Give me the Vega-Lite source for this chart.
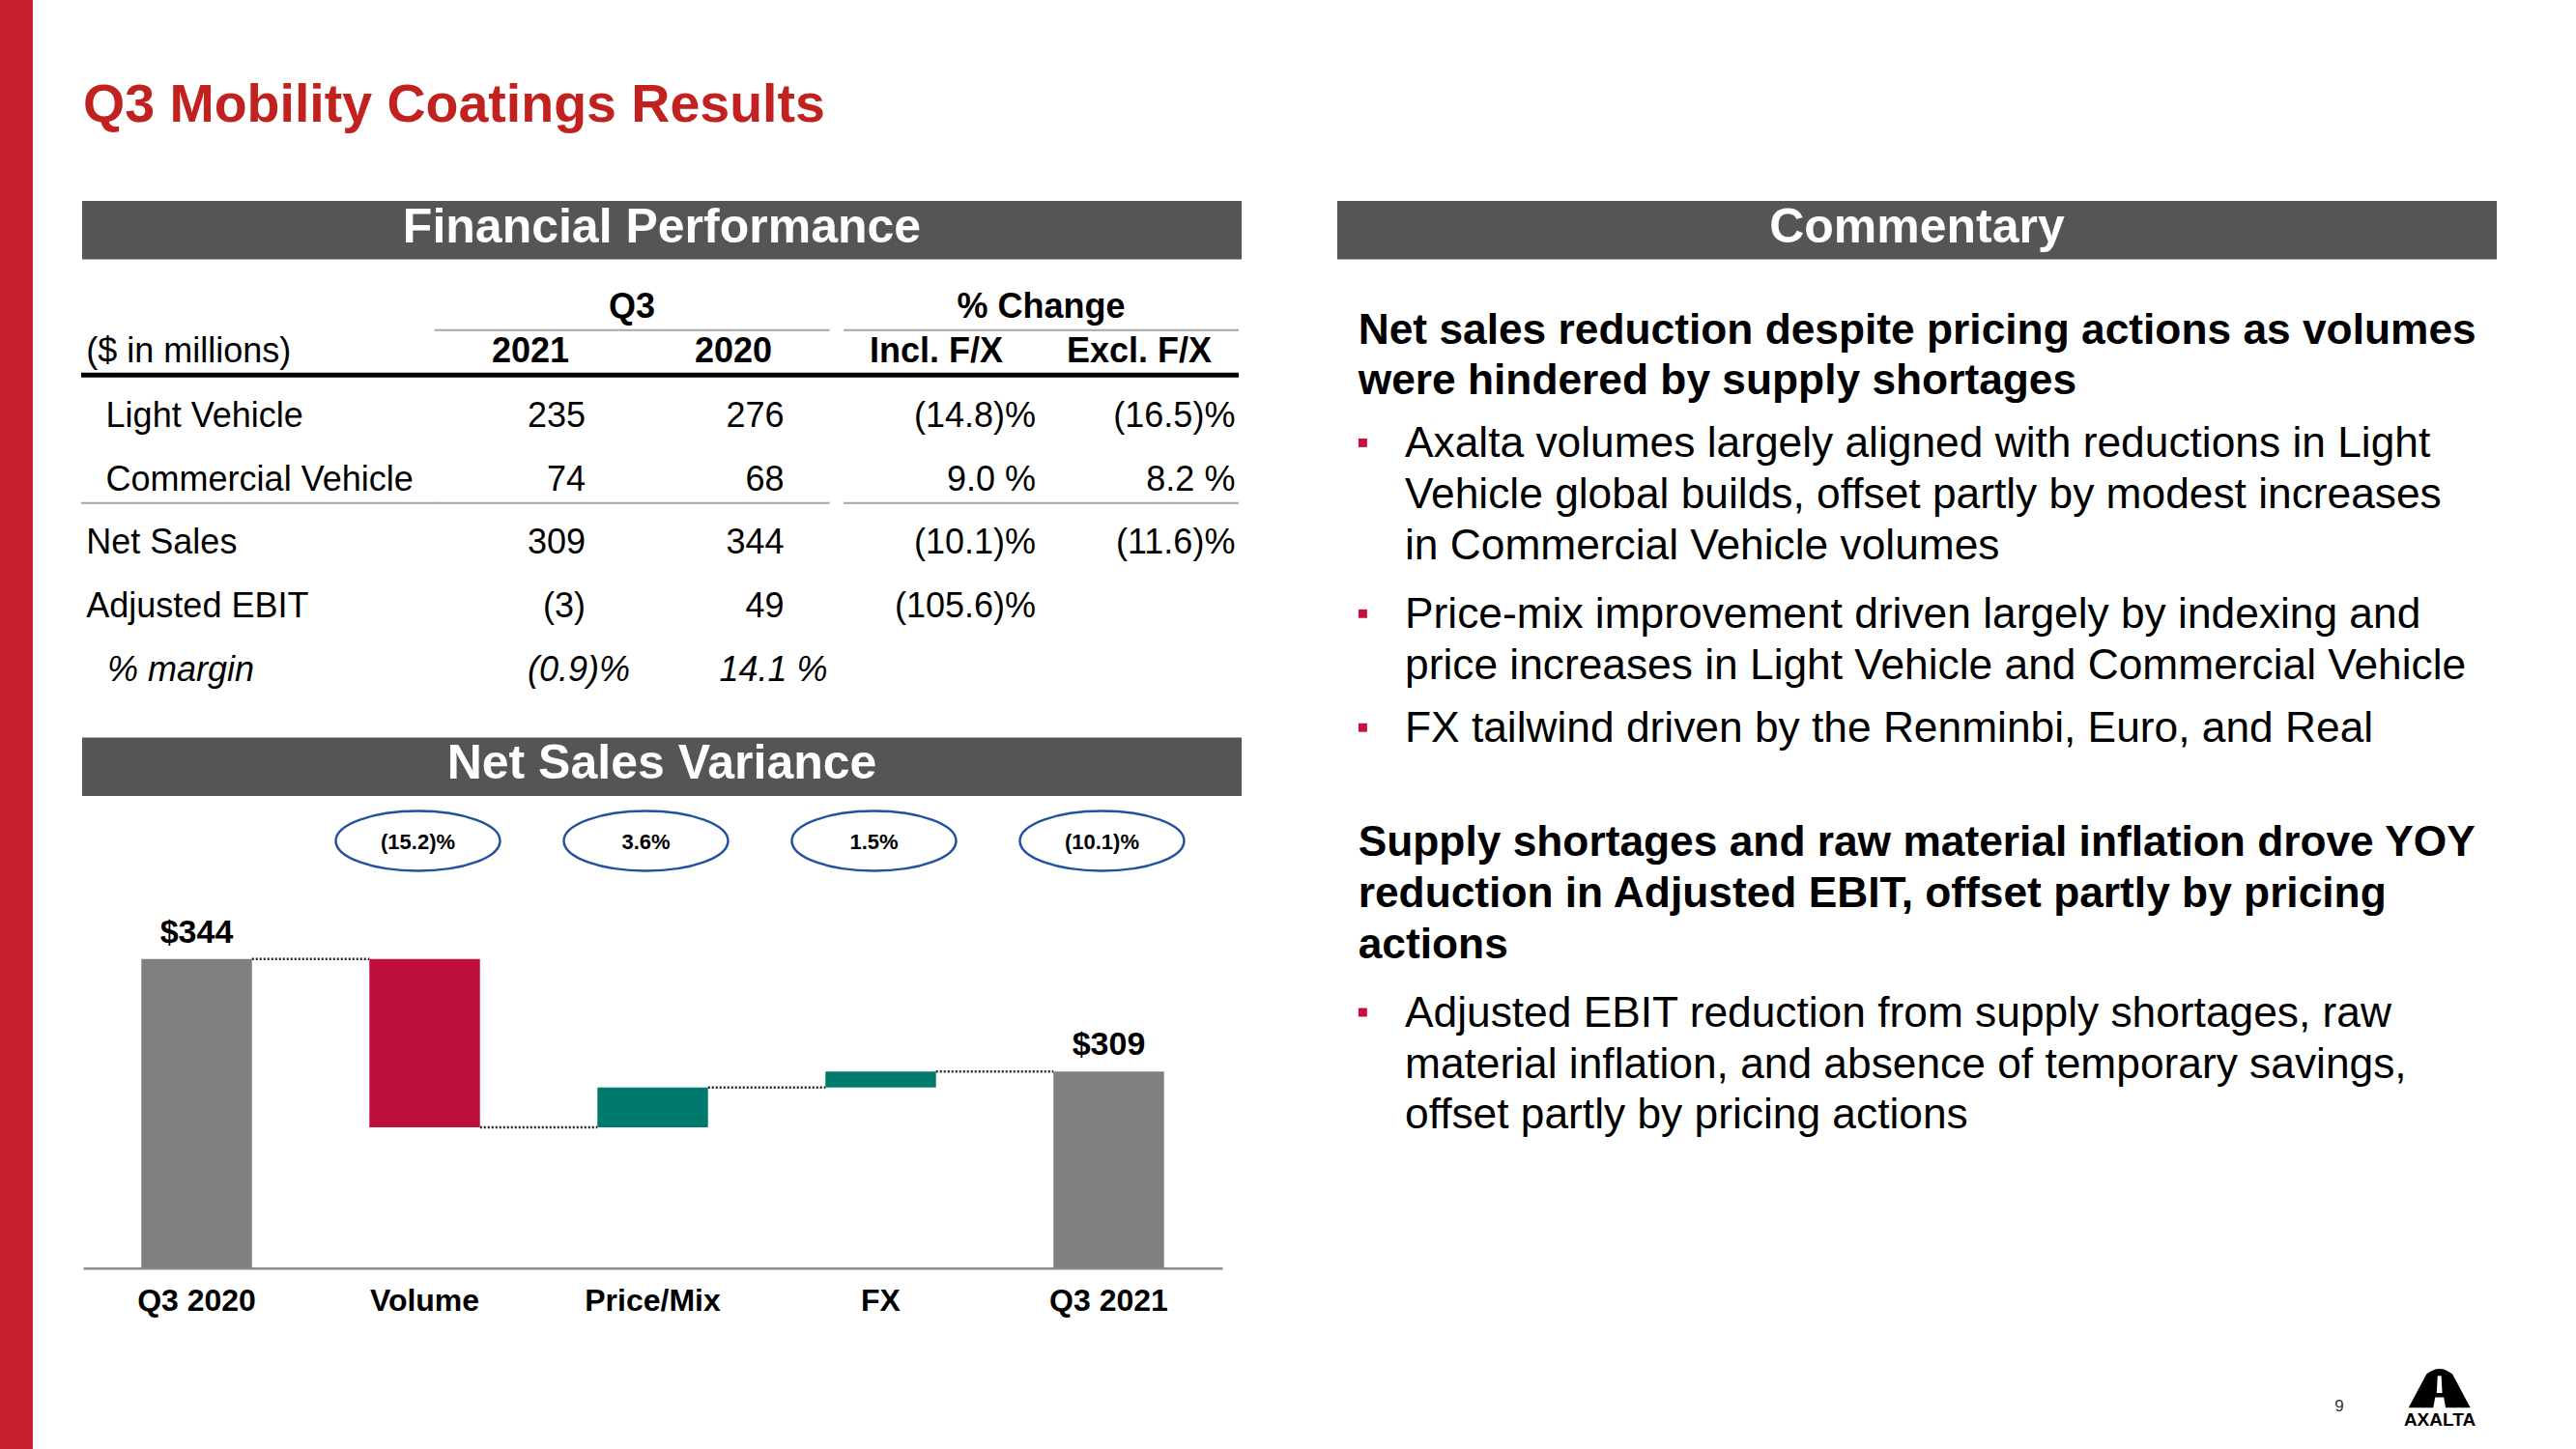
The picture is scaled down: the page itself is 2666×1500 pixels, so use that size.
{
  "$schema": "https://vega.github.io/schema/vega-lite/v6.json",
  "width": 2666,
  "height": 1500,
  "autosize": {"type": "none"},
  "padding": 0,
  "background": "#ffffff",
  "config": {"view": {"stroke": null}, "font": "Liberation Sans"},
  "datasets": {
    "slide": [{"title": "Q3 Mobility Coatings Results", "page": "9", "brand": "AXALTA"}],
    "panels": [
      {"header": "Financial Performance", "side": "left", "tier": "upper"},
      {"header": "Commentary", "side": "right", "tier": "upper"},
      {"header": "Net Sales Variance", "side": "left", "tier": "lower"}
    ],
    "tableHead": [
      {"label": "Q3", "tier": "group", "group": "Q3"},
      {"label": "% Change", "tier": "group", "group": "% Change"},
      {"label": "($ in millions)", "tier": "column", "group": "rows"},
      {"label": "2021", "tier": "column", "group": "Q3"},
      {"label": "2020", "tier": "column", "group": "Q3"},
      {"label": "Incl. F/X", "tier": "column", "group": "% Change"},
      {"label": "Excl. F/X", "tier": "column", "group": "% Change"}
    ],
    "borders": [
      {"border": "below column headings"},
      {"border": "below segments"}
    ],
    "table": [
      {"item": "Light Vehicle", "kind": "segment", "c2021": "235", "c2020": "276", "incl": "(14.8)%", "excl": "(16.5)%"},
      {"item": "Commercial Vehicle", "kind": "segment", "c2021": "74", "c2020": "68", "incl": "9.0 %", "excl": "8.2 %"},
      {"item": "Net Sales", "kind": "total", "c2021": "309", "c2020": "344", "incl": "(10.1)%", "excl": "(11.6)%"},
      {"item": "Adjusted EBIT", "kind": "total", "c2021": "(3)", "c2020": "49", "incl": "(105.6)%"},
      {"item": "% margin", "kind": "ratio", "c2021": "(0.9)%", "c2020": "14.1 %"}
    ],
    "waterfall": [
      {"step": "Q3 2020", "kind": "total", "end": 344, "label": "$344"},
      {"step": "Volume", "kind": "decrease", "start": 344, "end": 291.7, "change": "(15.2)%"},
      {"step": "Price/Mix", "kind": "increase", "start": 291.7, "end": 304.1, "change": "3.6%"},
      {"step": "FX", "kind": "increase", "start": 304.1, "end": 309, "change": "1.5%"},
      {"step": "Q3 2021", "kind": "total", "end": 309, "label": "$309", "change": "(10.1)%"}
    ],
    "connectors": [
      {"from": "Q3 2020", "to": "Volume", "level": 344},
      {"from": "Volume", "to": "Price/Mix", "level": 291.7},
      {"from": "Price/Mix", "to": "FX", "level": 304.1},
      {"from": "FX", "to": "Q3 2021", "level": 309}
    ],
    "commentary": [
      {"line": 0, "kind": "heading", "text": ["Net sales reduction despite pricing actions as volumes", "were hindered by supply shortages"]},
      {"line": 2, "kind": "bullet", "text": ["Axalta volumes largely aligned with reductions in Light", "Vehicle global builds, offset partly by modest increases", "in Commercial Vehicle volumes"]},
      {"line": 5, "kind": "bullet", "text": ["Price-mix improvement driven largely by indexing and", "price increases in Light Vehicle and Commercial Vehicle"]},
      {"line": 7, "kind": "bullet", "text": ["FX tailwind driven by the Renminbi, Euro, and Real"]},
      {"line": 9, "kind": "heading", "text": ["Supply shortages and raw material inflation drove YOY", "reduction in Adjusted EBIT, offset partly by pricing", "actions"]},
      {"line": 12, "kind": "bullet", "text": ["Adjusted EBIT reduction from supply shortages, raw", "material inflation, and absence of temporary savings,", "offset partly by pricing actions"]}
    ]
  },
  "layer": [
    {
      "data": {"name": "slide"},
      "mark": {"type": "rect", "color": "#C8202E"},
      "encoding": {
        "x": {"field": "brand", "type": "nominal", "scale": {"type": "band", "range": [0, 34], "paddingInner": 0, "paddingOuter": 0}, "axis": null},
        "y": {"field": "brand", "type": "nominal", "scale": {"type": "band", "range": [0, 1500], "paddingInner": 0, "paddingOuter": 0}, "axis": null}
      }
    },
    {
      "data": {"name": "slide"},
      "mark": {"type": "text", "align": "left", "baseline": "alphabetic", "fontSize": 55.5, "fontWeight": "bold", "color": "#C2221F"},
      "encoding": {
        "text": {"field": "title"},
        "x": {"field": "title", "type": "nominal", "scale": {"type": "point", "range": [86, 86]}, "axis": null},
        "y": {"field": "title", "type": "nominal", "scale": {"type": "point", "range": [126, 126]}, "axis": null}
      }
    },
    {
      "data": {"name": "panels"},
      "mark": {"type": "rect", "color": "#555555"},
      "encoding": {
        "x": {"field": "side", "type": "nominal", "scale": {"type": "band", "domain": ["left", "right"], "range": [85, 2584], "paddingInner": 0.0762, "paddingOuter": 0}, "axis": null},
        "y": {"field": "tier", "type": "nominal", "scale": {"type": "band", "domain": ["upper", "lower"], "range": [208, 824], "paddingInner": 0.8911, "paddingOuter": 0}, "axis": null}
      }
    },
    {
      "data": {"name": "panels"},
      "mark": {"type": "text", "align": "center", "baseline": "alphabetic", "dy": 12.5, "fontSize": 50, "fontWeight": "bold", "color": "#ffffff"},
      "encoding": {
        "text": {"field": "header"},
        "x": {"field": "side", "type": "nominal", "scale": {"type": "band", "domain": ["left", "right"], "range": [85, 2584], "paddingInner": 0.0762, "paddingOuter": 0}, "axis": null},
        "y": {"field": "tier", "type": "nominal", "scale": {"type": "band", "domain": ["upper", "lower"], "range": [208, 824], "paddingInner": 0.8911, "paddingOuter": 0}, "axis": null}
      }
    },
    {
      "data": {"name": "tableHead"},
      "transform": [{"filter": "datum.tier == 'group'"}],
      "mark": {"type": "text", "align": "center", "baseline": "alphabetic", "fontSize": 36, "fontWeight": "bold", "color": "#000000"},
      "encoding": {
        "text": {"field": "label"},
        "x": {"field": "group", "type": "nominal", "scale": {"type": "band", "domain": ["Q3", "% Change"], "range": [449.6, 1282], "paddingInner": 0.034, "paddingOuter": 0}, "axis": null},
        "y": {"field": "tier", "type": "nominal", "scale": {"type": "point", "domain": ["group", "column"], "range": [329.3, 375], "padding": 0}, "axis": null}
      }
    },
    {
      "data": {"name": "tableHead"},
      "transform": [{"filter": "datum.tier == 'column' && datum.group != 'rows'"}],
      "mark": {"type": "text", "align": "center", "baseline": "alphabetic", "fontSize": 36, "fontWeight": "bold", "color": "#000000"},
      "encoding": {
        "text": {"field": "label"},
        "x": {"field": "label", "type": "nominal", "scale": {"type": "point", "domain": ["2021", "2020", "Incl. F/X", "Excl. F/X"], "range": [549, 1179], "padding": 0}, "axis": null},
        "y": {"field": "tier", "type": "nominal", "scale": {"type": "point", "domain": ["group", "column"], "range": [329.3, 375], "padding": 0}, "axis": null}
      }
    },
    {
      "data": {"name": "tableHead"},
      "transform": [{"filter": "datum.group == 'rows'"}],
      "mark": {"type": "text", "align": "left", "baseline": "alphabetic", "fontSize": 36, "color": "#000000"},
      "encoding": {
        "text": {"field": "label"},
        "x": {"field": "group", "type": "nominal", "scale": {"type": "point", "domain": ["rows"], "range": [89.3, 89.3]}, "axis": null},
        "y": {"field": "tier", "type": "nominal", "scale": {"type": "point", "domain": ["group", "column"], "range": [329.3, 375], "padding": 0}, "axis": null}
      }
    },
    {
      "data": {"name": "tableHead"},
      "transform": [{"filter": "datum.tier == 'group'"}],
      "mark": {"type": "rule", "color": "#A6A6A6", "strokeWidth": 2},
      "encoding": {
        "x": {"field": "group", "type": "nominal", "bandPosition": 0, "scale": {"type": "band", "domain": ["Q3", "% Change"], "range": [449.6, 1282], "paddingInner": 0.034, "paddingOuter": 0}, "axis": null},
        "x2": {"field": "group", "bandPosition": 1},
        "y": {"field": "tier", "type": "nominal", "scale": {"type": "point", "domain": ["group"], "range": [341.7, 341.7]}, "axis": null}
      }
    },
    {
      "data": {"name": "tableHead"},
      "transform": [{"filter": "datum.tier == 'group'"}],
      "mark": {"type": "rule", "color": "#A6A6A6", "strokeWidth": 2},
      "encoding": {
        "x": {"field": "group", "type": "nominal", "bandPosition": 0, "scale": {"type": "band", "domain": ["Q3", "% Change"], "range": [449.6, 1282], "paddingInner": 0.034, "paddingOuter": 0}, "axis": null},
        "x2": {"field": "group", "bandPosition": 1},
        "y": {"field": "tier", "type": "nominal", "scale": {"type": "point", "domain": ["group"], "range": [520.7, 520.7]}, "axis": null}
      }
    },
    {
      "data": {"name": "borders"},
      "transform": [{"filter": "datum.border == 'below segments'"}],
      "mark": {"type": "rule", "color": "#A6A6A6", "strokeWidth": 2},
      "encoding": {
        "x": {"field": "border", "type": "nominal", "bandPosition": 0, "scale": {"type": "band", "range": [84, 450.6], "paddingInner": 0, "paddingOuter": 0}, "axis": null},
        "x2": {"field": "border", "bandPosition": 1},
        "y": {"field": "border", "type": "nominal", "scale": {"type": "point", "range": [520.7, 520.7]}, "axis": null}
      }
    },
    {
      "data": {"name": "borders"},
      "transform": [{"filter": "datum.border == 'below column headings'"}],
      "mark": {"type": "rule", "color": "#000000", "strokeWidth": 5},
      "encoding": {
        "x": {"field": "border", "type": "nominal", "bandPosition": 0, "scale": {"type": "band", "range": [84, 1282], "paddingInner": 0, "paddingOuter": 0}, "axis": null},
        "x2": {"field": "border", "bandPosition": 1},
        "y": {"field": "border", "type": "nominal", "scale": {"type": "point", "range": [388.3, 388.3]}, "axis": null}
      }
    },
    {
      "data": {"name": "table"},
      "transform": [{"filter": "datum.kind != 'ratio'"}],
      "mark": {"type": "text", "align": "left", "baseline": "alphabetic", "fontSize": 36, "color": "#000000"},
      "encoding": {
        "text": {"field": "item"},
        "x": {"field": "kind", "type": "nominal", "scale": {"type": "point", "domain": ["total", "segment"], "range": [89.3, 109.6], "padding": 0}, "axis": null},
        "y": {"field": "item", "type": "nominal", "scale": {"type": "point", "domain": ["Light Vehicle", "Commercial Vehicle", "Net Sales", "Adjusted EBIT", "% margin"], "range": [441.7, 705], "padding": 0}, "axis": null}
      }
    },
    {
      "data": {"name": "table"},
      "transform": [{"filter": "datum.kind == 'ratio'"}],
      "mark": {"type": "text", "align": "left", "baseline": "alphabetic", "fontSize": 36, "fontStyle": "italic", "color": "#000000"},
      "encoding": {
        "text": {"field": "item"},
        "x": {"field": "kind", "type": "nominal", "scale": {"type": "point", "domain": ["ratio"], "range": [111, 111]}, "axis": null},
        "y": {"field": "item", "type": "nominal", "scale": {"type": "point", "domain": ["Light Vehicle", "Commercial Vehicle", "Net Sales", "Adjusted EBIT", "% margin"], "range": [441.7, 705], "padding": 0}, "axis": null}
      }
    },
    {
      "data": {"name": "table"},
      "transform": [{"filter": "datum.kind != 'ratio'"}, {"fold": ["c2021", "c2020"], "as": ["column", "value"]}, {"filter": "isValid(datum.value)"}],
      "mark": {"type": "text", "align": "right", "baseline": "alphabetic", "fontSize": 36, "color": "#000000"},
      "encoding": {
        "text": {"field": "value"},
        "x": {"field": "column", "type": "nominal", "scale": {"type": "point", "domain": ["c2021", "c2020"], "range": [606, 811.5], "padding": 0}, "axis": null},
        "y": {"field": "item", "type": "nominal", "scale": {"type": "point", "domain": ["Light Vehicle", "Commercial Vehicle", "Net Sales", "Adjusted EBIT", "% margin"], "range": [441.7, 705], "padding": 0}, "axis": null}
      }
    },
    {
      "data": {"name": "table"},
      "transform": [{"fold": ["incl", "excl"], "as": ["column", "value"]}, {"filter": "isValid(datum.value)"}],
      "mark": {"type": "text", "align": "right", "baseline": "alphabetic", "fontSize": 36, "color": "#000000"},
      "encoding": {
        "text": {"field": "value"},
        "x": {"field": "column", "type": "nominal", "scale": {"type": "point", "domain": ["incl", "excl"], "range": [1072, 1278.4], "padding": 0}, "axis": null},
        "y": {"field": "item", "type": "nominal", "scale": {"type": "point", "domain": ["Light Vehicle", "Commercial Vehicle", "Net Sales", "Adjusted EBIT", "% margin"], "range": [441.7, 705], "padding": 0}, "axis": null}
      }
    },
    {
      "data": {"name": "table"},
      "transform": [{"filter": "datum.kind == 'ratio'"}, {"fold": ["c2021", "c2020"], "as": ["column", "value"]}, {"filter": "isValid(datum.value)"}],
      "mark": {"type": "text", "align": "right", "baseline": "alphabetic", "fontSize": 36, "fontStyle": "italic", "color": "#000000"},
      "encoding": {
        "text": {"field": "value"},
        "x": {"field": "column", "type": "nominal", "scale": {"type": "point", "domain": ["c2021", "c2020"], "range": [652, 856.6], "padding": 0}, "axis": null},
        "y": {"field": "item", "type": "nominal", "scale": {"type": "point", "domain": ["Light Vehicle", "Commercial Vehicle", "Net Sales", "Adjusted EBIT", "% margin"], "range": [441.7, 705], "padding": 0}, "axis": null}
      }
    },
    {
      "data": {"name": "connectors"},
      "mark": {"type": "rule", "color": "#222222", "strokeWidth": 2.5, "strokeDash": [2, 2]},
      "encoding": {
        "x": {"field": "from", "type": "nominal", "bandPosition": 1, "scale": {"type": "band", "domain": ["Q3 2020", "Volume", "Price/Mix", "FX", "Q3 2021"], "range": [86, 1265], "paddingInner": 0.515, "paddingOuter": 0.2555}, "axis": null},
        "x2": {"field": "to", "bandPosition": 0},
        "y": {"field": "level", "type": "quantitative", "scale": {"type": "linear", "domain": [248, 344], "range": [1312.7, 992.7], "zero": false, "nice": false}, "axis": null}
      }
    },
    {
      "data": {"name": "waterfall"},
      "transform": [{"filter": "datum.kind == 'total'"}],
      "mark": {"type": "bar"},
      "encoding": {
        "x": {"field": "step", "type": "nominal", "scale": {"type": "band", "domain": ["Q3 2020", "Volume", "Price/Mix", "FX", "Q3 2021"], "range": [86, 1265], "paddingInner": 0.515, "paddingOuter": 0.2555},
          "axis": {"orient": "bottom", "offset": -187.3, "title": null, "ticks": false, "tickSize": 0, "grid": false, "domainColor": "#8C8C8C", "domainWidth": 2.5, "labelFont": "Liberation Sans", "labelFontSize": 32, "labelFontWeight": "bold", "labelColor": "#000000", "labelPadding": 19, "labelAngle": 0}},
        "y": {"field": "end", "type": "quantitative", "scale": {"type": "linear", "domain": [248, 344], "range": [1312.7, 992.7], "zero": false, "nice": false}, "axis": null},
        "y2": {"datum": 248},
        "color": {"field": "kind", "type": "nominal", "scale": {"domain": ["total", "decrease", "increase"], "range": ["#808080", "#BE0E3C", "#007A6D"]}, "legend": null}
      }
    },
    {
      "data": {"name": "waterfall"},
      "transform": [{"filter": "datum.kind != 'total'"}],
      "mark": {"type": "bar"},
      "encoding": {
        "x": {"field": "step", "type": "nominal", "scale": {"type": "band", "domain": ["Q3 2020", "Volume", "Price/Mix", "FX", "Q3 2021"], "range": [86, 1265], "paddingInner": 0.515, "paddingOuter": 0.2555}, "axis": null},
        "y": {"field": "start", "type": "quantitative", "scale": {"type": "linear", "domain": [248, 344], "range": [1312.7, 992.7], "zero": false, "nice": false}, "axis": null},
        "y2": {"field": "end"},
        "color": {"field": "kind", "type": "nominal", "scale": {"domain": ["total", "decrease", "increase"], "range": ["#808080", "#BE0E3C", "#007A6D"]}, "legend": null}
      }
    },
    {
      "data": {"name": "waterfall"},
      "transform": [{"filter": "isValid(datum.label)"}],
      "mark": {"type": "text", "align": "center", "baseline": "alphabetic", "dy": -17, "fontSize": 34, "fontWeight": "bold", "color": "#000000"},
      "encoding": {
        "text": {"field": "label"},
        "x": {"field": "step", "type": "nominal", "scale": {"type": "band", "domain": ["Q3 2020", "Volume", "Price/Mix", "FX", "Q3 2021"], "range": [86, 1265], "paddingInner": 0.515, "paddingOuter": 0.2555}, "axis": null},
        "y": {"field": "end", "type": "quantitative", "scale": {"type": "linear", "domain": [248, 344], "range": [1312.7, 992.7], "zero": false, "nice": false}, "axis": null}
      }
    },
    {
      "data": {"name": "waterfall"},
      "transform": [{"filter": "isValid(datum.change)"}],
      "mark": {"type": "point", "shape": "M -1 0 A 1 0.365 0 1 1 1 0 A 1 0.365 0 1 1 -1 0 Z", "size": 28900, "filled": true, "fill": "#ffffff", "stroke": "#2052A0", "strokeWidth": 2.5, "opacity": 1},
      "encoding": {
        "x": {"field": "step", "type": "nominal", "scale": {"type": "band", "domain": ["Q3 2020", "Volume", "Price/Mix", "FX", "Q3 2021"], "range": [79, 1258], "paddingInner": 0.515, "paddingOuter": 0.2555}, "axis": null},
        "y": {"datum": "% change", "type": "nominal", "scale": {"type": "point", "domain": ["% change"], "range": [870.5, 870.5]}, "axis": null}
      }
    },
    {
      "data": {"name": "waterfall"},
      "transform": [{"filter": "isValid(datum.change)"}],
      "mark": {"type": "text", "align": "center", "baseline": "alphabetic", "dy": 8, "fontSize": 22, "fontWeight": "bold", "color": "#000000"},
      "encoding": {
        "text": {"field": "change"},
        "x": {"field": "step", "type": "nominal", "scale": {"type": "band", "domain": ["Q3 2020", "Volume", "Price/Mix", "FX", "Q3 2021"], "range": [79, 1258], "paddingInner": 0.515, "paddingOuter": 0.2555}, "axis": null},
        "y": {"datum": "% change", "type": "nominal", "scale": {"type": "point", "domain": ["% change"], "range": [870.5, 870.5]}, "axis": null}
      }
    },
    {
      "data": {"name": "commentary"},
      "transform": [{"filter": "datum.kind == 'heading'"}],
      "mark": {"type": "text", "align": "left", "baseline": "alphabetic", "fontSize": 44.3, "fontWeight": "bold", "lineHeight": 52.7, "color": "#000000"},
      "encoding": {
        "text": {"field": "text"},
        "x": {"field": "kind", "type": "nominal", "scale": {"type": "point", "domain": ["heading", "bullet"], "range": [1405.7, 1454], "padding": 0}, "axis": null},
        "y": {"field": "line", "type": "quantitative", "scale": {"type": "linear", "domain": [0, 12], "range": [355.5, 1063], "zero": false, "nice": false}, "axis": null}
      }
    },
    {
      "data": {"name": "commentary"},
      "transform": [{"filter": "datum.kind == 'bullet'"}],
      "mark": {"type": "text", "align": "left", "baseline": "alphabetic", "fontSize": 44.3, "lineHeight": 52.7, "color": "#000000"},
      "encoding": {
        "text": {"field": "text"},
        "x": {"field": "kind", "type": "nominal", "scale": {"type": "point", "domain": ["heading", "bullet"], "range": [1405.7, 1454], "padding": 0}, "axis": null},
        "y": {"field": "line", "type": "quantitative", "scale": {"type": "linear", "domain": [0, 12], "range": [355.5, 1063], "zero": false, "nice": false}, "axis": null}
      }
    },
    {
      "data": {"name": "commentary"},
      "transform": [{"filter": "datum.kind == 'bullet'"}],
      "mark": {"type": "point", "shape": "square", "size": 80, "filled": true, "color": "#C8103E", "opacity": 1},
      "encoding": {
        "x": {"field": "kind", "type": "nominal", "scale": {"type": "point", "domain": ["bullet"], "range": [1410.4, 1410.4]}, "axis": null},
        "y": {"field": "line", "type": "quantitative", "scale": {"type": "linear", "domain": [0, 12], "range": [340.5, 1048], "zero": false, "nice": false}, "axis": null}
      }
    },
    {
      "data": {"name": "slide"},
      "mark": {"type": "text", "align": "center", "baseline": "alphabetic", "fontSize": 17, "color": "#333333"},
      "encoding": {
        "text": {"field": "page"},
        "x": {"field": "page", "type": "nominal", "scale": {"type": "point", "range": [2421, 2421]}, "axis": null},
        "y": {"field": "page", "type": "nominal", "scale": {"type": "point", "range": [1461, 1461]}, "axis": null}
      }
    },
    {
      "data": {"name": "slide"},
      "mark": {"type": "point", "shape": "M -1 0.635 L -0.42 -0.45 Q 0 -0.8 0.42 -0.45 L 1 0.635 L 0.2 0.635 L 0.14 0.3 L -0.14 0.3 L -0.2 0.635 Z M -0.06 -0.4 L -0.09 0.16 L 0.09 0.16 L 0.06 -0.4 Z", "size": 4096, "filled": true, "color": "#000000", "opacity": 1},
      "encoding": {
        "x": {"field": "brand", "type": "nominal", "scale": {"type": "point", "range": [2524.7, 2524.7]}, "axis": null},
        "y": {"field": "brand", "type": "nominal", "scale": {"type": "point", "range": [1437, 1437]}, "axis": null}
      }
    },
    {
      "data": {"name": "slide"},
      "mark": {"type": "text", "align": "center", "baseline": "alphabetic", "fontSize": 19, "fontWeight": "bold", "color": "#000000"},
      "encoding": {
        "text": {"field": "brand"},
        "x": {"field": "brand", "type": "nominal", "scale": {"type": "point", "range": [2525, 2525]}, "axis": null},
        "y": {"field": "brand", "type": "nominal", "scale": {"type": "point", "range": [1476, 1476]}, "axis": null}
      }
    }
  ],
  "resolve": {"scale": {"x": "independent", "y": "independent", "color": "independent"}}
}
